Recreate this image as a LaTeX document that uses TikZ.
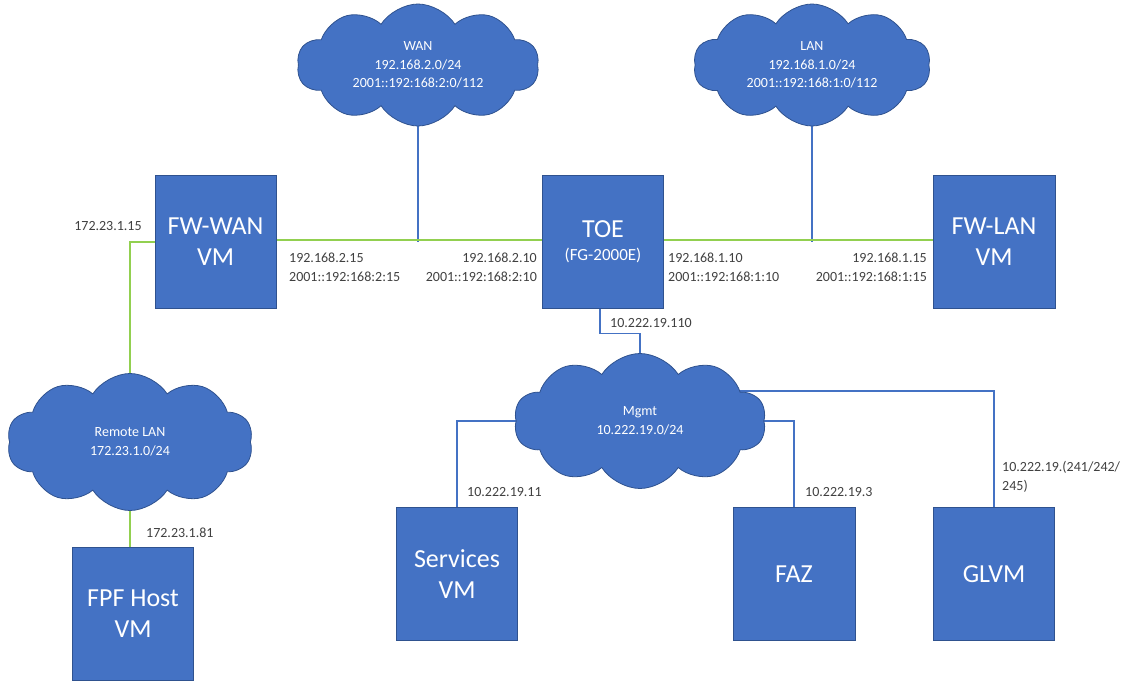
\documentclass[tikz,border=0pt]{standalone}
\usepackage{fontspec}
\setmainfont{Carlito}
\usetikzlibrary{shapes.symbols,backgrounds}
\definecolor{boxblue}{HTML}{4472C4}
\definecolor{boxedge}{HTML}{2F528F}
\definecolor{lgreen}{HTML}{92D050}
\definecolor{lbl}{HTML}{404040}
\begin{document}
\begin{tikzpicture}[x=1pt,y=-1pt,
  vmbox/.style={draw=boxedge,fill=boxblue,line width=0.8pt,minimum width=121pt,minimum height=133pt,text=white,font=\fontsize{26}{31}\selectfont,align=center,inner sep=0pt},
  net/.style={cloud,cloud puffs=10,cloud puff arc=115,cloud ignores aspect,draw=boxedge,fill=boxblue,line width=0.8pt,text=white,font=\fontsize{14}{18.5}\selectfont,align=center,inner sep=0pt},
  glink/.style={draw=lgreen,line width=2pt},
  blink/.style={draw=boxblue,line width=1.5pt},
  lab/.style={text=lbl,font=\fontsize{14}{19}\selectfont,inner sep=0pt}]
\useasboundingbox (0,0) rectangle (1125,685);

% boxes
\node[vmbox] (fwwan) at (215.5,241.5) {FW-WAN\\VM};
\node[vmbox] (toe) at (603,241.5) {TOE\\[-8pt]{\fontsize{17}{20}\selectfont (FG-2000E)}};
\node[vmbox,minimum width=122pt] (fwlan) at (994,241.5) {FW-LAN\\VM};
\node[vmbox] (fpf) at (133,614) {FPF Host\\VM};
\node[vmbox] (services) at (457,574) {Services\\VM};
\node[vmbox,minimum width=122pt] (faz) at (794,574) {FAZ};
\node[vmbox] (glvm) at (994,574) {GLVM};

% clouds
\node[net,minimum width=242pt,minimum height=122pt] (wan) at (418,65) {WAN\\192.168.2.0/24\\2001::192:168:2:0/112};
\node[net,minimum width=237pt,minimum height=122pt] (lan) at (812,65) {LAN\\192.168.1.0/24\\2001::192:168:1:0/112};
\node[net,minimum width=246pt,minimum height=137pt] (remote) at (130,442) {Remote LAN\\172.23.1.0/24};
\node[net,minimum width=252pt,minimum height=135pt] (mgmt) at (640,421) {Mgmt\\10.222.19.0/24};

% connectors
\begin{scope}[on background layer]
\draw[blink] (wan.center) -- (wan.center |- fwwan.east);
\draw[blink] (lan.center) -- (lan.center |- fwlan.west);
\draw[glink] ([yshift=1.5pt]fwwan.east) -- ([yshift=1.5pt]toe.west);
\draw[glink] ([yshift=1.5pt]toe.east) -- ([yshift=1.5pt]fwlan.west);
\draw[glink] (fwwan.west) -| (remote.center);
\draw[glink] (remote.center) -- (remote.center |- fpf.north);
\draw[blink] ([xshift=-3pt]toe.south) -- ++(0,25) -| (mgmt.center);
\draw[blink] (mgmt.center) -| (services.north);
\draw[blink] (mgmt.center) -| (faz.north);
\draw[blink] ([yshift=30pt]mgmt.center) -| (glvm.north);
\end{scope}

% labels
\node[lab] (l1) at (108,226) {172.23.1.15};
\node[lab,anchor=west,align=left] (l2) at (289,267.5) {192.168.2.15\\2001::192:168:2:15};
\node[lab,anchor=east,align=right] (l3) at (537,267.5) {192.168.2.10\\2001::192:168:2:10};
\node[lab,anchor=west,align=left] (l4) at (668,267.5) {192.168.1.10\\2001::192:168:1:10};
\node[lab,anchor=east,align=right] (l5) at (927,267.5) {192.168.1.15\\2001::192:168:1:15};
\node[lab,anchor=west] (l6) at (610,323) {10.222.19.110};
\node[lab,anchor=west] (l7) at (146,533) {172.23.1.81};
\node[lab,anchor=west] (l8) at (467,492) {10.222.19.11};
\node[lab,anchor=west] (l9) at (805,492) {10.222.19.3};
\node[lab,anchor=west,align=left] (l10) at (1002,477) {10.222.19.(241/242/\\245)};
\end{tikzpicture}
\end{document}
